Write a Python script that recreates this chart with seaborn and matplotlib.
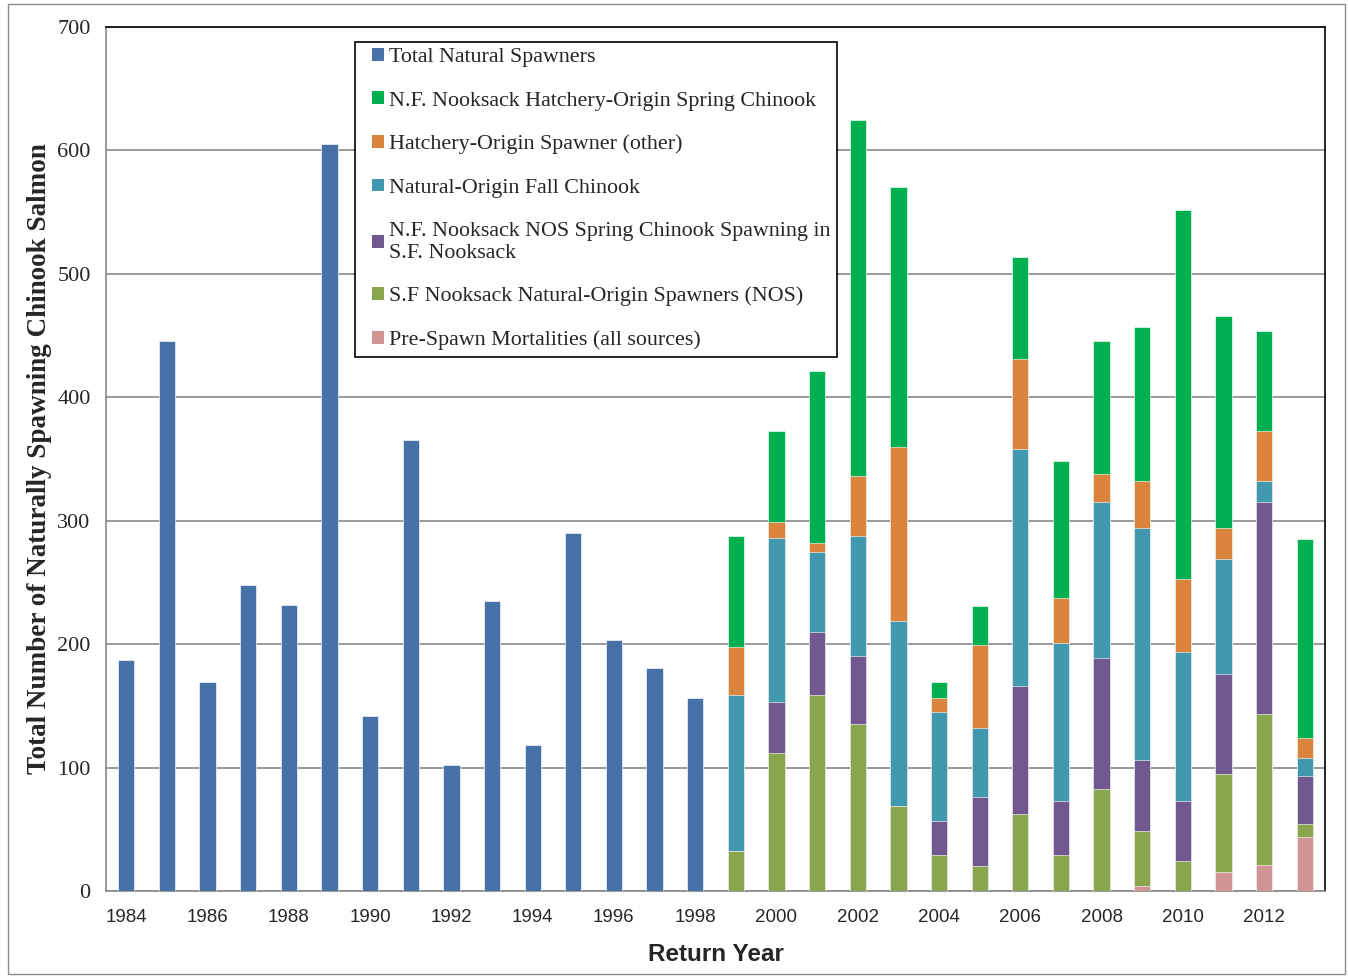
import matplotlib
matplotlib.use("Agg")
import numpy as np
import pandas as pd
import matplotlib.pyplot as plt
import seaborn as sns
from matplotlib.patches import Patch, Rectangle
from matplotlib.legend_handler import HandlerPatch

# ---- data ----
years = [str(y) for y in range(1984, 2014)]

early_years = [str(y) for y in range(1984, 1999)]
total_natural = [187, 446, 169, 248, 232, 605, 142, 365, 102, 235, 118, 290, 203, 181, 156]

stack_years = [str(y) for y in range(1999, 2014)]
pre_spawn = [0, 0, 0, 0, 0, 0, 0, 0, 0, 0, 4, 0, 15, 21, 44]
sf_nos = [32, 112, 159, 135, 69, 29, 20, 62, 29, 83, 45, 24, 80, 122, 10]
nf_nos_sf = [0, 41, 51, 55, 0, 28, 56, 104, 44, 106, 57, 49, 81, 172, 39]
fall_nor = [127, 133, 65, 98, 150, 88, 56, 192, 128, 126, 188, 121, 93, 17, 15]
hatch_other = [39, 13, 7, 48, 141, 11, 67, 73, 36, 23, 38, 59, 25, 41, 16]
nf_hatch = [90, 74, 139, 289, 210, 13, 32, 83, 111, 108, 125, 299, 172, 81, 161]

tick_labels = [str(y) for y in range(1984, 2014, 2)]

labels = {
    "total": "Total Natural Spawners",
    "nf_hatch": "N.F. Nooksack Hatchery-Origin Spring Chinook",
    "hatch_other": "Hatchery-Origin Spawner (other)",
    "fall_nor": "Natural-Origin Fall Chinook",
    "nf_nos_sf": "N.F. Nooksack NOS Spring Chinook Spawning in\nS.F. Nooksack",
    "sf_nos": "S.F Nooksack Natural-Origin Spawners (NOS)",
    "pre_spawn": "Pre-Spawn Mortalities (all sources)",
}
colors = {
    "total": "#4672A8",
    "nf_hatch": "#00B050",
    "hatch_other": "#DB843D",
    "fall_nor": "#4298AF",
    "nf_nos_sf": "#71588F",
    "sf_nos": "#89A54E",
    "pre_spawn": "#D09494",
}

stack = pd.DataFrame({
    "year": stack_years,
    "pre_spawn": pre_spawn,
    "sf_nos": sf_nos,
    "nf_nos_sf": nf_nos_sf,
    "fall_nor": fall_nor,
    "hatch_other": hatch_other,
    "nf_hatch": nf_hatch,
})
layers = ["pre_spawn", "sf_nos", "nf_nos_sf", "fall_nor", "hatch_other", "nf_hatch"]
cum = stack[layers].cumsum(axis=1)
early = pd.DataFrame({"year": early_years, "total": total_natural})

sns.set_style("white")
plt.rcParams["font.family"] = ["Liberation Sans", "DejaVu Sans"]

fig = plt.figure(figsize=(13.48, 9.76), dpi=100)
ax = fig.add_axes([0.0786, 0.0871, 0.9044, 0.8852])

bar_kw = dict(order=years, width=0.4, saturation=1, errorbar=None, ax=ax,
              edgecolor=(1, 1, 1, 0.6), linewidth=0.7, zorder=3)

sns.barplot(data=early, x="year", y="total", color=colors["total"], **bar_kw)
# stacked bars: draw cumulative totals from the top layer downwards
for key in reversed(layers):
    sns.barplot(x=stack["year"], y=cum[key], color=colors[key], **bar_kw)

ax.set_ylim(0, 700)
ax.set_xlim(-0.5, len(years) - 0.5)
ax.set_yticks(range(0, 701, 100))
ax.yaxis.grid(True, color="#9a9a9a", linewidth=1.4, zorder=0)
ax.set_axisbelow(True)

ax.set_xticks([years.index(t) for t in tick_labels])
ax.set_xticklabels(tick_labels, fontsize=13.5, family="Liberation Sans")
ax.set_xticks(np.arange(-0.5, len(years), 1), minor=True)
ax.tick_params(axis="x", which="major", length=0, pad=13)
ax.tick_params(axis="x", which="minor", length=5, color="#888888", direction="out", width=1)
ax.tick_params(axis="y", length=7, color="#888888", direction="out", pad=4)
for t in ax.get_yticklabels():
    t.set_family("Liberation Serif")
    t.set_fontsize(16)

ax.set_xlabel("Return Year", fontsize=17.5, fontweight="bold", family="Liberation Sans", labelpad=12)
ax.set_ylabel("Total Number of Naturally Spawning Chinook Salmon", fontsize=19.5,
              fontweight="bold", family="Liberation Serif", labelpad=4)

for s in ["left", "bottom"]:
    ax.spines[s].set_color("#888888")
    ax.spines[s].set_linewidth(1.2)
for s in ["top", "right"]:
    ax.spines[s].set_color("#000000")
    ax.spines[s].set_linewidth(1.2)


def small_square(legend, orig_handle, xdescent, ydescent, width, height, fontsize):
    # square key sitting at the right end of the handle box
    s = height
    return Rectangle((-xdescent + width - s, -ydescent), s, s)


order_keys = ["total", "nf_hatch", "hatch_other", "fall_nor", "nf_nos_sf", "sf_nos", "pre_spawn"]
handles = [Patch(facecolor=colors[k], edgecolor="none") for k in order_keys]
leg = ax.legend(handles, [labels[k] for k in order_keys], loc="upper left",
                bbox_to_anchor=(0.204, 0.983), borderaxespad=0, frameon=True,
                fancybox=False, framealpha=1, edgecolor="#000000",
                prop={"family": "Liberation Serif", "size": 15.8},
                handler_map={Patch: HandlerPatch(patch_func=small_square)},
                handlelength=1.05, handleheight=0.5, handletextpad=0.2,
                labelspacing=1.1, borderpad=0.3)
leg.get_frame().set_linewidth(1.2)
leg.set_zorder(5)

fig.patches.append(Rectangle((0.006, 0.002), 0.992, 0.994, transform=fig.transFigure,
                             fill=False, edgecolor="#8a8a8a", linewidth=1))

fig.savefig("out.png", dpi=100)
